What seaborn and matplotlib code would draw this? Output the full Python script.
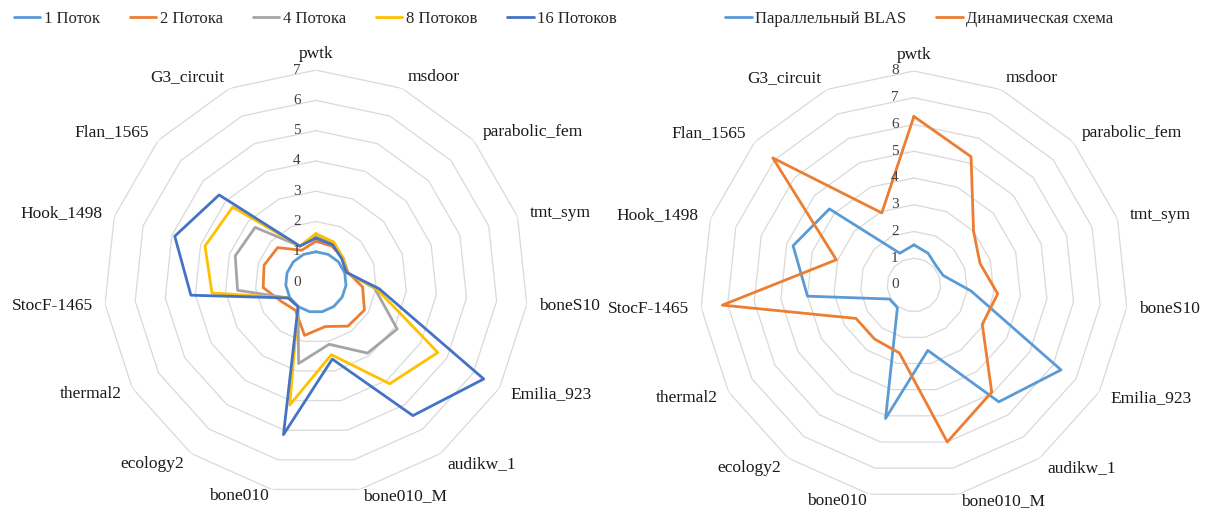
import numpy as np
import pandas as pd
import seaborn as sns
import matplotlib.pyplot as plt
from matplotlib.lines import Line2D

sns.set_theme(style='white')
plt.rcParams['font.family'] = ['Liberation Serif', 'DejaVu Serif']

categories = ['pwtk', 'msdoor', 'parabolic_fem', 'tmt_sym', 'boneS10', 'Emilia_923',
              'audikw_1', 'bone010_M', 'bone010', 'ecology2', 'thermal2', 'StocF-1465',
              'Hook_1498', 'Flan_1565', 'G3_circuit']

# left chart: speedup by thread count
threads_1 = [1.0, 1.0, 1.0, 1.0, 1.0, 1.0, 1.0, 1.0, 1.0, 1.0, 1.0, 1.0, 1.0, 1.0, 1.0]
threads_2 = [1.35, 1.3, 1.2, 1.1, 1.55, 1.85, 1.8, 1.5, 1.8, 1.15, 1.3, 1.75, 1.8, 1.7, 1.15]
threads_4 = [1.5, 1.4, 1.2, 1.05, 1.95, 3.1, 2.9, 2.1, 2.75, 1.0, 1.05, 2.6, 2.8, 2.7, 1.3]
threads_8 = [1.6, 1.45, 1.2, 1.05, 2.0, 4.65, 4.15, 2.45, 4.15, 1.0, 1.05, 3.45, 3.85, 3.7, 1.3]
threads_16 = [1.45, 1.35, 1.15, 1.05, 2.1, 6.4, 5.45, 2.6, 5.15, 1.0, 1.05, 4.15, 4.9, 4.3, 1.3]

# right chart: parallel BLAS vs dynamic scheme
blas = [1.5, 1.3, 1.1, 1.15, 2.15, 6.35, 5.4, 2.5, 5.1, 1.05, 1.05, 4.0, 4.75, 4.25, 1.3]
dynamic = [6.3, 5.25, 3.0, 2.6, 3.15, 2.95, 4.95, 6.0, 2.6, 2.5, 2.5, 7.2, 3.05, 7.1, 2.95]

left_series = {'1 Поток': threads_1, '2 Потока': threads_2, '4 Потока': threads_4,
               '8 Потоков': threads_8, '16 Потоков': threads_16}
left_colors = ['#5B9BD5', '#ED7D31', '#A5A5A5', '#FFC000', '#4472C4']
right_series = {'Параллельный BLAS': blas, 'Динамическая схема': dynamic}
right_colors = ['#5B9BD5', '#ED7D31']

n = len(categories)
angles = 2 * np.pi * np.arange(n) / n
closed = np.append(angles, 2 * np.pi)


def draw_radar(ax, series, colors, rmax):
    ax.set_theta_zero_location('N')
    ax.set_theta_direction(-1)
    ax.grid(False)
    ax.spines['polar'].set_visible(False)
    for lev in range(1, rmax + 1):
        ax.plot(closed, [lev] * (n + 1), color='#d9d9d9', lw=0.9, zorder=1)

    rows = []
    for name, vals in series.items():
        vv = list(vals) + [vals[0]]
        for i, (t, v) in enumerate(zip(closed, vv)):
            rows.append((t, v, name, i))
    df = pd.DataFrame(rows, columns=['theta', 'value', 'series', 'order'])
    sns.lineplot(data=df, x='theta', y='value', hue='series', hue_order=list(series.keys()),
                 palette=colors, sort=False, estimator=None, lw=2.0, ax=ax, legend=False, zorder=3)
    ax.set_ylim(0, rmax)
    ax.set_xticks([])
    ax.set_yticks([])
    ax.set_xlabel('')
    ax.set_ylabel('')

    for lev in range(0, rmax + 1):
        ax.annotate(str(lev), xy=(0, lev), xytext=(-11, 0), textcoords='offset points',
                    ha='right', va='center', fontsize=11, color='#404040', zorder=4)

    for t, lab in zip(angles, categories):
        s, c = np.sin(t), np.cos(t)
        if s > 0.05:
            ha = 'left'
        elif s < -0.05:
            ha = 'right'
        else:
            ha = 'center'
        va = 'bottom' if c > 0.99 else 'center'
        off = 6 if c > 0.99 else 9
        dy = off * c
        if c < -0.9:
            dy = -5
        ax.annotate(lab, xy=(t, rmax), xytext=(off * s, dy), textcoords='offset points',
                    ha=ha, va=va, fontsize=12.5, color='#1a1a1a', annotation_clip=False)


fig = plt.figure(figsize=(12.08, 5.11), dpi=100)
ax1 = fig.add_axes([0.086, 0.033, 0.351, 0.83], projection='polar')
ax2 = fig.add_axes([0.5794, 0.0235, 0.3543, 0.8376], projection='polar')

draw_radar(ax1, left_series, left_colors, 7)
draw_radar(ax2, right_series, right_colors, 8)

h1 = [Line2D([], [], color=c, lw=2) for c in left_colors]
fig.legend(h1, list(left_series.keys()), loc='center', bbox_to_anchor=(0.261, 0.963), ncol=5,
           frameon=False, fontsize=12, handlelength=1.6, handletextpad=0.2, columnspacing=1.8)
h2 = [Line2D([], [], color=c, lw=2) for c in right_colors]
fig.legend(h2, list(right_series.keys()), loc='center', bbox_to_anchor=(0.761, 0.963), ncol=2,
           frameon=False, fontsize=12, handlelength=1.6, handletextpad=0.2, columnspacing=1.8)

fig.savefig('out.png', dpi=100)
